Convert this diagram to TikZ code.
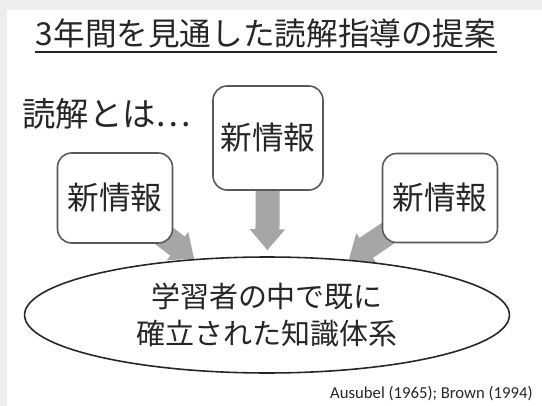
\documentclass[tikz,border=0pt]{standalone}
\usepackage{fontspec}
\setmainfont{Carlito}
\newfontfamily\jpfont{Noto Sans CJK JP}
\usetikzlibrary{shapes.geometric}
\usetikzlibrary{arrows.meta}
\usetikzlibrary{backgrounds}
\definecolor{textgray}{HTML}{262626}
\definecolor{linegray}{HTML}{595959}
\definecolor{arrowgray}{HTML}{A6A6A6}
\definecolor{framegray}{HTML}{EDEDED}

\begin{document}
\begin{tikzpicture}[x=0.02cm, y=-0.02cm,
		infobox/.style={draw=linegray, line width=0.9pt, rounded corners=8pt, fill=white, text=textgray, font=\jpfont\fontsize{18}{20}\selectfont},
		bigarrow/.style={draw=arrowgray, line width=0.48cm, -{Triangle[width=0.68cm,length=0.42cm]}}]
				\useasboundingbox (0,0) rectangle (542,406);
				\node[text=textgray, inner sep=0, font=\jpfont\fontsize{18}{20}\selectfont] (T) at (266,33) {3年間を見通した読解指導の提案};
				\draw[textgray, line width=0.7pt] ([yshift=-4pt]T.base west) -- ([yshift=-4pt]T.base east);
				\node[anchor=west, text=textgray, inner sep=0, font=\jpfont\fontsize{19}{21}\selectfont] (Q) at (22,114) {読解とは…};
				
				\node[infobox, minimum width=2.2cm, minimum height=2.08cm] (M) at (268,138) {新情報};
				\node[infobox, minimum width=2.3cm, minimum height=1.8cm] (L) at (115,198) {新情報};
				\node[infobox, minimum width=2.3cm, minimum height=1.78cm] (R) at (440,198) {新情報};
				\node[ellipse, draw=textgray, line width=0.9pt, minimum width=9.7cm, minimum height=2.32cm, align=center, text=textgray, font=\jpfont\fontsize{16.5}{21}\selectfont] (E) at (267,315) {学習者の中で既に\\確立された知識体系};
				\node[anchor=east, inner sep=0, text=textgray, font=\fontsize{9.5}{11}\selectfont] (C) at (533,394) {Ausubel (1965); Brown (1994)};
				
				\begin{scope}[on background layer]
					\fill[framegray] (0,0) rectangle (542,406);
					\fill[white] (7,10) rectangle (542,406);
					\draw[bigarrow, shorten >=0.12cm] (M.center) -- (E);
					\draw[bigarrow] (L.center) -- (E);
					\draw[bigarrow] (R.center) -- (E);
				\end{scope}
			\end{tikzpicture}
\end{document}
